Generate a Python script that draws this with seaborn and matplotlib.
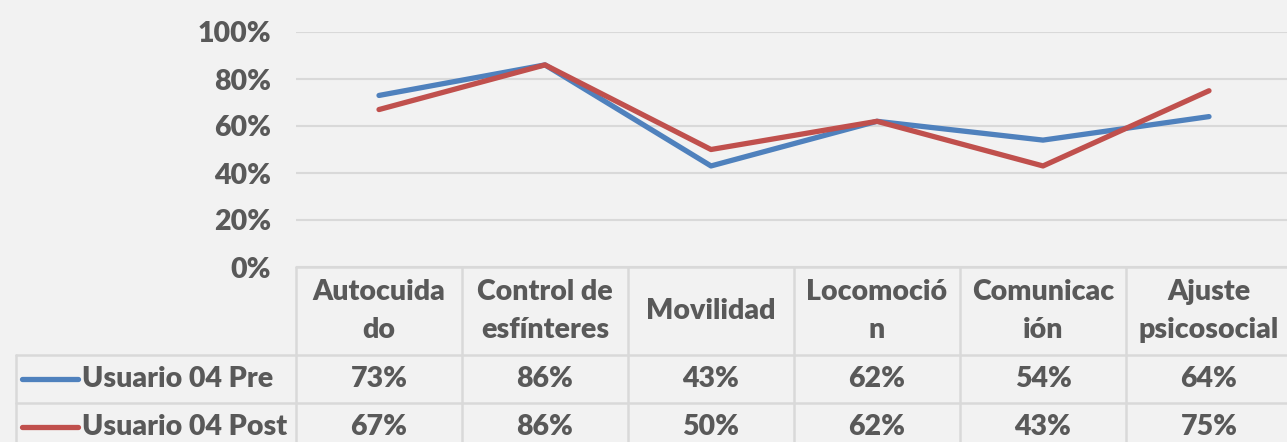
import matplotlib
matplotlib.use("Agg")
import matplotlib.pyplot as plt
import matplotlib.transforms as mtransforms
import seaborn as sns
import pandas as pd

categorias = ["Autocuida\ndo", "Control de\nesfínteres", "Movilidad",
              "Locomoció\nn", "Comunicac\nión", "Ajuste\npsicosocial"]
series = ["Usuario 04 Pre", "Usuario 04 Post"]
pre = [0.73, 0.86, 0.43, 0.62, 0.54, 0.64]
post = [0.67, 0.86, 0.50, 0.62, 0.43, 0.75]
colores = ["#4F81BD", "#C0504D"]
yticks = [0, 0.2, 0.4, 0.6, 0.8, 1.0]

df = pd.DataFrame({
    "idx": list(range(len(categorias))) * 2,
    "valor": pre + post,
    "serie": [series[0]] * len(pre) + [series[1]] * len(post),
})

# Style
sns.set_style("white")
plt.rcParams["font.family"] = ["Lato", "DejaVu Sans"]
gris = "#595959"
linea = "#D9D9D9"
bg = "#F2F2F2"
fs = 20.5
peso = "heavy"

W, H = 1287, 442
fig = plt.figure(figsize=(W / 100, H / 100), dpi=100, facecolor=bg)
ax = fig.add_axes([296 / W, (H - 267) / H, 996 / W, 235 / H])
ax.set_facecolor(bg)

sns.lineplot(data=df, x="idx", y="valor", hue="serie", palette=colores,
             linewidth=3.8, legend=False, ax=ax, solid_capstyle="round")

ax.set_xlim(-0.5, len(categorias) - 0.5)
ax.set_ylim(0, 1)
ax.set_yticks(yticks)
ax.set_yticklabels([f"{int(round(v * 100))}%" for v in yticks],
                   fontsize=fs, fontweight=peso, color=gris)
ax.tick_params(axis="y", length=0, pad=18)
ax.set_xticks([])
ax.set_xlabel("")
ax.set_ylabel("")
for s in ax.spines.values():
    s.set_visible(False)
ax.yaxis.grid(True, color=linea, linewidth=1.5)
ax.set_axisbelow(True)

# Data table below the plot
tr = mtransforms.blended_transform_factory(ax.transData, fig.transFigure)
def fy(px):
    return 1 - px / H

n = len(categorias)
left_x = -0.5
right_x = n - 0.5
legend_left = ax.transData.inverted().transform((16, 0))[0]

kw_line = dict(color=linea, linewidth=1.8, transform=tr, clip_on=False)
fig.add_artist(plt.Line2D([left_x, right_x], [fy(267), fy(267)], **kw_line))
fig.add_artist(plt.Line2D([legend_left, right_x], [fy(355), fy(355)], **kw_line))
fig.add_artist(plt.Line2D([legend_left, right_x], [fy(403), fy(403)], **kw_line))
for i in range(n + 1):
    fig.add_artist(plt.Line2D([i - 0.5, i - 0.5], [fy(267), fy(460)], **kw_line))
fig.add_artist(plt.Line2D([legend_left, legend_left], [fy(355), fy(460)], **kw_line))

txt = dict(fontsize=fs, fontweight=peso, color=gris, transform=tr,
           ha="center", va="center", linespacing=1.6)
for i, c in enumerate(categorias):
    fig.text(i, fy(311), c, **txt)

for row_y, nombre, vals, col in [(379, series[0], pre, colores[0]),
                                 (427, series[1], post, colores[1])]:
    fig.text(82 / W, fy(row_y), nombre, fontsize=fs, fontweight=peso,
             color=gris, ha="left", va="center")
    fig.add_artist(plt.Line2D([22 / W, 78 / W], [fy(row_y), fy(row_y)],
                              color=col, linewidth=3.8, solid_capstyle="round"))
    for i, v in enumerate(vals):
        fig.text(i, fy(row_y), f"{int(round(v * 100))}%", **txt)

fig.savefig("out.png", dpi=100, facecolor=bg)
